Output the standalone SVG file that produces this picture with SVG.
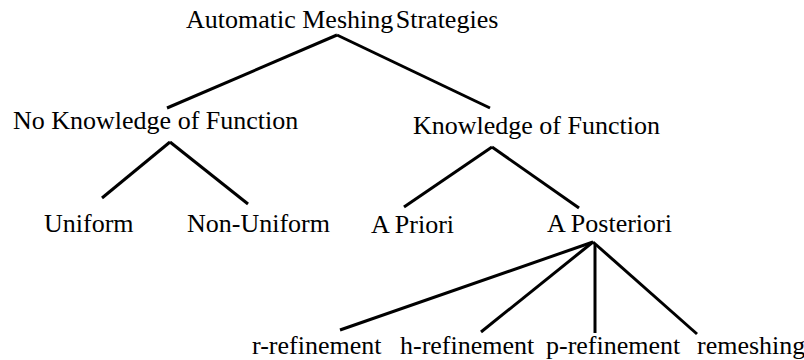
<svg xmlns="http://www.w3.org/2000/svg" width="804" height="360" viewBox="0 0 804 360">
<style>
.c line{stroke:#000;stroke-width:3;stroke-linecap:butt}
</style>
<rect width="804" height="360" fill="#fff"/>
<g class="c" id="connectors">
<line x1="337" y1="35" x2="167" y2="108"/>
<line x1="337" y1="35" x2="490" y2="108"/>
<line x1="170" y1="142" x2="102" y2="198"/>
<line x1="170" y1="142" x2="248" y2="204"/>
<line x1="492" y1="147" x2="404" y2="207"/>
<line x1="492" y1="147" x2="579" y2="208"/>
<line x1="593" y1="242" x2="340" y2="330"/>
<line x1="593" y1="242" x2="481" y2="332"/>
<line x1="595" y1="244" x2="595" y2="333"/>
<line x1="593" y1="242" x2="697" y2="334"/>
</g>
<g font-family="Times New Roman, Liberation Serif, Times, serif" font-size="26" fill="#000">
<g id="n-root"><text x="186" y="28">Automatic Meshing<tspan dx="-4"> Strategies</tspan></text></g>
<g id="n-noknow"><text x="13" y="129">No Knowledge of Function</text></g>
<g id="n-know"><text x="413" y="134">Knowledge of Function</text></g>
<g id="n-uniform"><text x="44" y="232">Uniform</text></g>
<g id="n-nonuniform"><text x="187" y="232">Non-Uniform</text></g>
<g id="n-priori"><text x="371" y="233">A Priori</text></g>
<g id="n-posteriori"><text x="547" y="232">A Posteriori</text></g>
<g id="n-r"><text x="252" y="354">r-refinement</text></g>
<g id="n-h"><text x="400" y="354">h-refinement</text></g>
<g id="n-p"><text x="546" y="354">p-refinement</text></g>
<g id="n-remesh"><text x="697" y="354">remeshing</text></g>
</g>
</svg>
